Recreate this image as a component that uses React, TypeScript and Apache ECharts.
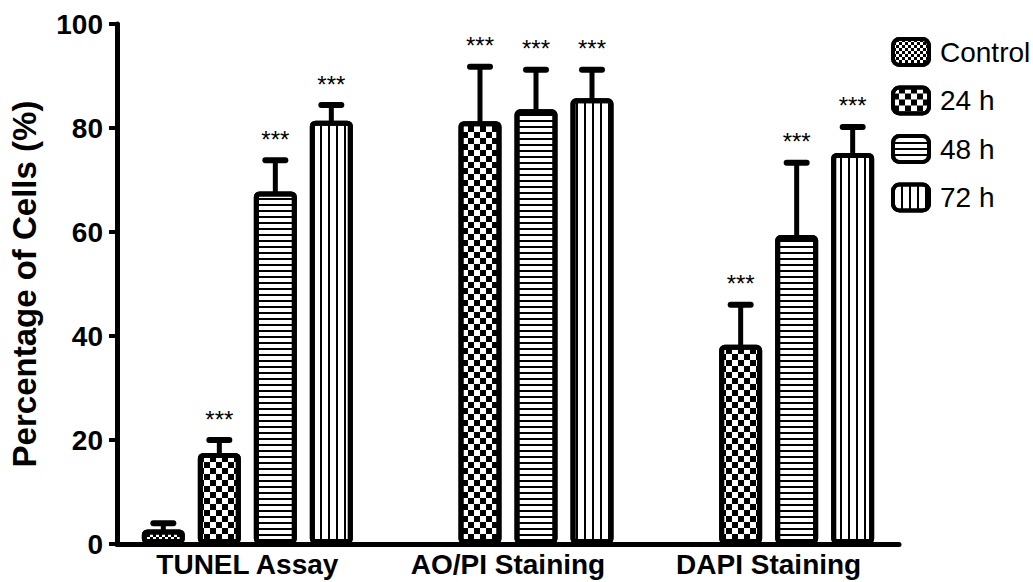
import React, { useEffect, useRef } from "react";
import * as echarts from "echarts";

const categories = ["TUNEL Assay", "AO/PI Staining", "DAPI Staining"];
const seriesNames = ["Control", "24 h", "48 h", "72 h"];

const controlMean = [2.8, null, null];
const h24Mean = [17.5, 81.3, 38.3];
const h48Mean = [67.8, 83.6, 59.4];
const h72Mean = [81.4, 85.7, 75.2];

const controlSd = [1.2, null, null];
const h24Sd = [2.5, 10.5, 7.7];
const h48Sd = [6.0, 7.6, 13.9];
const h72Sd = [3.0, 5.5, 5.0];

const controlSig = ["", "", ""];
const h24Sig = ["***", "***", "***"];
const h48Sig = ["***", "***", "***"];
const h72Sig = ["***", "***", "***"];

const yMin = 0;
const yMax = 100;
const yInterval = 20;

const FONT = "Arial, 'Liberation Sans', Helvetica, sans-serif";
const BAR_W = 43;
const GAP = 13;
const SPACING = BAR_W + GAP;

const decals = [
  { symbol: "rect", symbolSize: 1, dashArrayX: [[3, 3], [0, 3, 3, 0]], dashArrayY: [3, 0], color: "#000" },
  { symbol: "rect", symbolSize: 1, dashArrayX: [[6, 6], [0, 6, 6, 0]], dashArrayY: [6, 0], color: "#000" },
  { symbol: "rect", symbolSize: 1, dashArrayX: [1, 0], dashArrayY: [2, 4], color: "#000" },
  { symbol: "rect", symbolSize: 1, dashArrayX: [2, 6], dashArrayY: [1, 0], color: "#000" },
];

export default function App() {
  const ref = useRef<HTMLDivElement>(null);
  useEffect(() => {
    if (!ref.current) return;
    const chart = echarts.init(ref.current, null, { renderer: "svg" });
    const means = [controlMean, h24Mean, h48Mean, h72Mean];
    const sds = [controlSd, h24Sd, h48Sd, h72Sd];
    const sigs = [controlSig, h24Sig, h48Sig, h72Sig];

    const errData: any[] = [];
    means.forEach((arr, s) => {
      arr.forEach((m, c) => {
        if (m == null) return;
        errData.push([c, m, s, sds[s][c] as number, sigs[s][c] ? 1 : 0]);
      });
    });

    const barSeries = seriesNames.map((name, s) => ({
      name,
      type: "bar",
      barWidth: BAR_W,
      barGap: (GAP / BAR_W) * 100 + "%",
      data: means[s].map((v) => (v == null ? "-" : v)),
      itemStyle: {
        color: "#fff",
        borderColor: "#000",
        borderWidth: 5,
        borderRadius: 3,
        decal: decals[s],
      },
      z: 2,
    }));

    chart.setOption({
      animation: false,
      textStyle: { fontFamily: FONT },
      grid: { left: 117, right: 134, top: 24, bottom: 38 },
      legend: {
        orient: "vertical",
        left: 886,
        top: 32,
        itemWidth: 36,
        itemHeight: 26,
        itemGap: 18.5,
        icon: "roundRect",
        data: seriesNames,
        itemStyle: { borderWidth: 4, borderColor: "#000" },
        textStyle: { fontSize: 28, color: "#000", fontFamily: FONT, padding: [0, 0, 0, 6] },
        selectedMode: false,
      },
      xAxis: {
        type: "category",
        data: categories,
        axisLine: { lineStyle: { color: "#000", width: 5 } },
        axisTick: { alignWithLabel: true, length: 8, lineStyle: { width: 4, color: "#000" } },
        axisLabel: {
          color: "#000",
          fontSize: 28,
          fontWeight: "bold",
          margin: 6,
          interval: 0,
          fontFamily: FONT,
        },
      },
      yAxis: {
        type: "value",
        min: yMin,
        max: yMax,
        interval: yInterval,
        name: "Percentage of Cells (%)",
        nameLocation: "middle",
        nameGap: 76,
        nameTextStyle: { fontSize: 33, fontWeight: "bold", color: "#000", fontFamily: FONT },
        splitLine: { show: false },
        axisLine: { show: true, lineStyle: { color: "#000", width: 5 } },
        axisTick: { show: true, length: 8, lineStyle: { width: 4, color: "#000" } },
        axisLabel: { color: "#000", fontSize: 28, fontWeight: "bold", margin: 14, fontFamily: FONT },
      },
      series: [
        ...barSeries,
        {
          type: "custom",
          name: "err",
          data: errData,
          encode: { x: 0, y: 1 },
          z: 3,
          renderItem: (params: any, api: any) => {
            const c = api.value(0);
            const m = api.value(1);
            const s = api.value(2);
            const sd = api.value(3);
            const sig = api.value(4);
            const base = api.coord([c, m]);
            const top = api.coord([c, m + sd]);
            const x = base[0] + (s - 1.5) * SPACING;
            const children: any[] = [
              {
                type: "line",
                shape: { x1: x, y1: base[1] + 3, x2: x, y2: top[1] },
                style: { stroke: "#000", lineWidth: 5 },
              },
              {
                type: "line",
                shape: { x1: x - 10, y1: top[1], x2: x + 10, y2: top[1] },
                style: { stroke: "#000", lineWidth: 6, lineCap: "round" },
              },
            ];
            if (sig) {
              children.push({
                type: "text",
                x,
                y: top[1] - 21,
                style: {
                  text: "***",
                  fill: "#000",
                  fontSize: 24,
                  fontFamily: FONT,
                  align: "center",
                  verticalAlign: "middle",
                },
              });
            }
            return { type: "group", children };
          },
        },
      ],
    });
    return () => chart.dispose();
  }, []);
  return (
    <div
      ref={ref}
      style={{ position: "fixed", left: 0, top: 0, width: 1033, height: 582, background: "#fff" }}
    />
  );
}
